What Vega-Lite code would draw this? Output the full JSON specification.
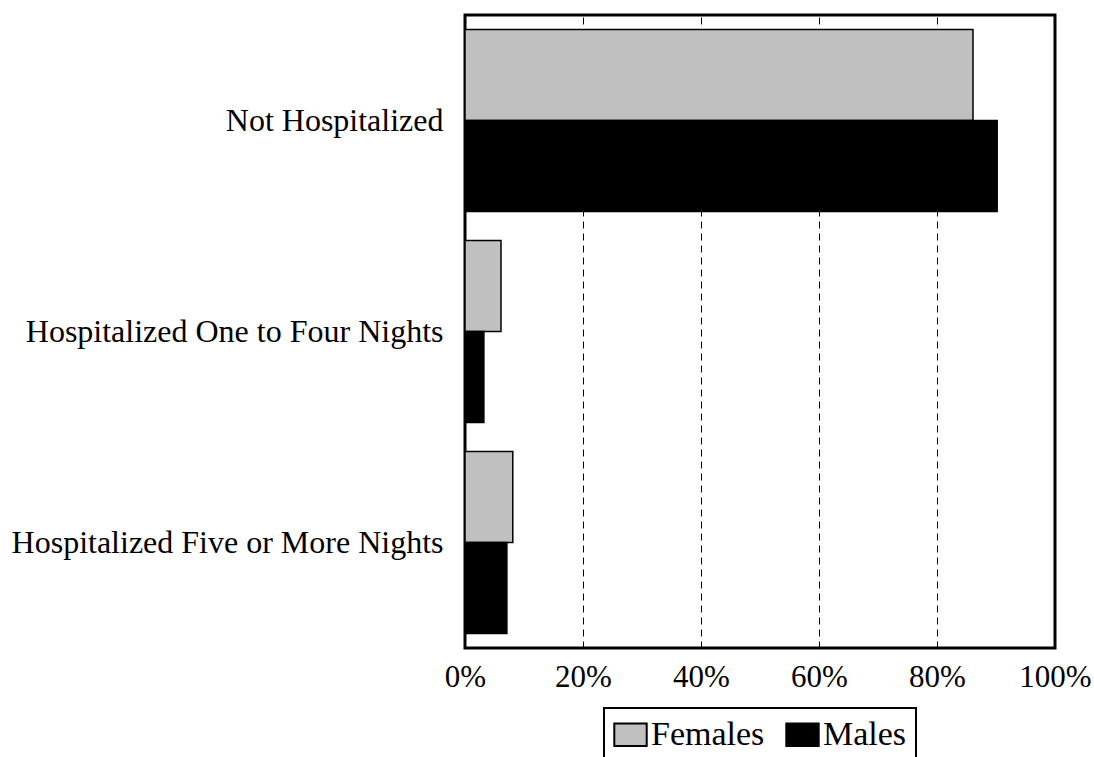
{
  "$schema": "https://vega.github.io/schema/vega-lite/v6.json",
  "width": 590,
  "height": 633,
  "autosize": {"type": "none"},
  "padding": {"left": 465, "top": 15, "right": 39, "bottom": 109},
  "background": "white",
  "config": {
    "font": "Liberation Serif",
    "view": {"stroke": "black", "strokeWidth": 3},
    "axis": {"labelFont": "Liberation Serif", "labelColor": "black"},
    "legend": {"strokeColor": "black", "strokeWidth": 2}
  },
  "data": {
    "values": [
      {"category": "Not Hospitalized", "sex": "Females", "share": 0.861},
      {"category": "Not Hospitalized", "sex": "Males", "share": 0.902},
      {"category": "Hospitalized One to Four Nights", "sex": "Females", "share": 0.061},
      {"category": "Hospitalized One to Four Nights", "sex": "Males", "share": 0.032},
      {"category": "Hospitalized Five or More Nights", "sex": "Females", "share": 0.081},
      {"category": "Hospitalized Five or More Nights", "sex": "Males", "share": 0.071}
    ]
  },
  "mark": {"type": "bar", "stroke": "black", "strokeWidth": 1.5},
  "encoding": {
    "y": {
      "field": "category",
      "type": "nominal",
      "sort": ["Not Hospitalized", "Hospitalized One to Four Nights", "Hospitalized Five or More Nights"],
      "scale": {"paddingInner": 0.137, "paddingOuter": 0.0685},
      "axis": {
        "title": null,
        "ticks": false,
        "domain": false,
        "labelFontSize": 32,
        "labelPadding": 22,
        "labelLimit": 600
      }
    },
    "yOffset": {
      "field": "sex",
      "type": "nominal",
      "sort": ["Females", "Males"]
    },
    "x": {
      "field": "share",
      "type": "quantitative",
      "scale": {"domain": [0, 1], "nice": false},
      "axis": {
        "title": null,
        "format": ".0%",
        "values": [0, 0.2, 0.4, 0.6, 0.8, 1],
        "ticks": false,
        "domain": false,
        "labelFontSize": 31,
        "labelPadding": 14,
        "labelFlush": false,
        "grid": true,
        "gridColor": "black",
        "gridWidth": 1,
        "gridDash": [7, 5]
      }
    },
    "fill": {
      "field": "sex",
      "type": "nominal",
      "sort": ["Females", "Males"],
      "scale": {"domain": ["Females", "Males"], "range": ["#c0c0c0", "black"]},
      "legend": {
        "title": null,
        "orient": "none",
        "legendX": 139,
        "legendY": 693,
        "direction": "horizontal",
        "symbolType": "M-1,-0.7L1,-0.7L1,0.7L-1,0.7Z",
        "symbolSize": 1050,
        "symbolStrokeColor": "black",
        "symbolStrokeWidth": 2,
        "labelFontSize": 34,
        "labelColor": "black",
        "labelOffset": 3,
        "columnPadding": 17,
        "padding": 9
      }
    }
  }
}
